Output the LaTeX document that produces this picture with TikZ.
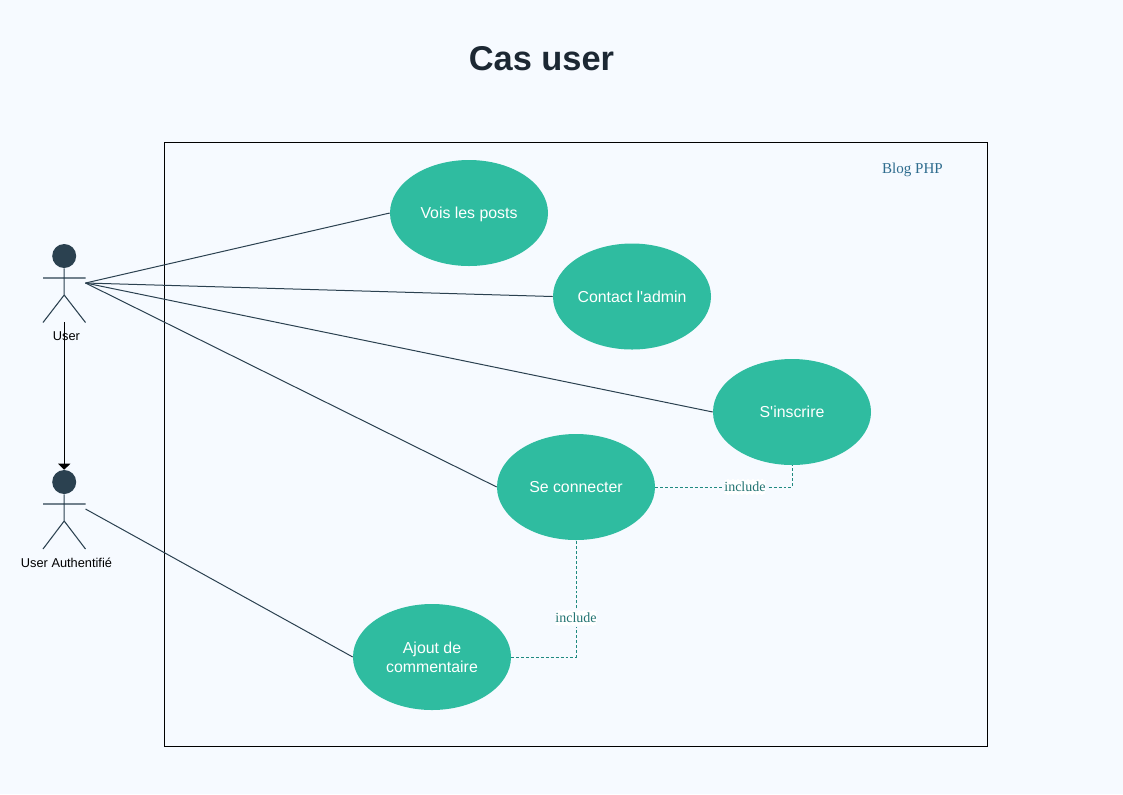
\documentclass[tikz,border=0pt]{standalone}
\usepackage{fontspec}
\setmainfont{Liberation Sans}[Ligatures=TeXOff]
\newfontfamily\serifface{Liberation Serif}
\usetikzlibrary{shapes.geometric,arrows.meta}
\definecolor{bgc}{HTML}{F6FAFF}
\definecolor{teal1}{HTML}{2FBCA0}
\definecolor{darkc}{HTML}{2B4150}
\definecolor{titlec}{HTML}{1C2833}
\definecolor{dashc}{HTML}{1F8A80}
\definecolor{bluec}{HTML}{2E6C8E}
\tikzset{
  usecase/.style={ellipse,fill=teal1,text=white,minimum width=118.5pt,minimum height=79.5pt,inner sep=0pt,align=center,font=\fontsize{11.9}{14.5}\selectfont},
  oneline/.style={text height=11pt,text depth=2.4pt},
  assoc/.style={draw=darkc,line width=0.75pt},
  actorline/.style={draw=darkc,line width=0.8pt},
  incl/.style={draw=dashc,line width=0.7pt,dash pattern=on 2.2pt off 1.5pt},
  incllabel/.style={fill=white,draw=bgc,line width=1.5pt,text=dashc!70!darkc,inner xsep=0.5pt,inner ysep=2.5pt,text height=7.4pt,text depth=0.2pt,font=\serifface\fontsize{10.5}{12}\selectfont},
  actorlabel/.style={text=black,inner sep=0pt,font=\fontsize{9.6}{11}\selectfont}
}
\begin{document}
\begin{tikzpicture}[x=0.75pt,y=-0.75pt]
\useasboundingbox (0,0) rectangle (1123,794);
\fill[bgc] (0,0) rectangle (1123,794);
\node[text=titlec,inner sep=0pt,font=\bfseries\fontsize{25.8}{30}\selectfont] (title) at (541.5,59) {Cas user};
\node[draw=black,line width=0.75pt,minimum width=617.25pt,minimum height=453pt,inner sep=0pt] (system) at (576,444) {};
\node[text=bluec,inner sep=0pt,font=\serifface\fontsize{11.3}{13}\selectfont] (blog) at (912.5,170) {Blog PHP};
\node[usecase,oneline] (posts) at (469,213) {Vois les posts};
\node[usecase,oneline] (contact) at (632,296.5) {Contact l'admin};
\node[usecase,oneline] (inscrire) at (792,412) {S'inscrire};
\node[usecase,oneline] (connecter) at (576,487) {Se connecter};
\node[usecase] (ajout) at (432,657) {Ajout de\\commentaire};
% actor User
\node[circle,fill=darkc,minimum size=18pt,inner sep=0pt] (uhead) at (64.2,256) {};
\coordinate (uhip) at (64.2,295);
\coordinate (uarml) at (43,278);
\coordinate (uarmr) at (85.5,278);
\coordinate (ulegl) at (43,322.5);
\coordinate (ulegr) at (85.5,322.5);
\coordinate (uport) at (85.5,283);
\coordinate (ufoot) at (64.2,322);
\draw[actorline] (uhead.south) -- (uhip) -- (ulegl) (uhip) -- (ulegr) (uarml) -- (uarmr);
\node[actorlabel] (ulabel) at (66.5,336.5) {User};
% actor Authentified
\node[circle,fill=darkc,minimum size=18pt,inner sep=0pt] (ahead) at (64.2,482) {};
\coordinate (ahip) at (64.2,521);
\coordinate (aarml) at (43,504);
\coordinate (aarmr) at (85.5,504);
\coordinate (alegl) at (43,549);
\coordinate (alegr) at (85.5,549);
\coordinate (aport) at (85.5,509);
\draw[actorline] (ahead.south) -- (ahip) -- (alegl) (ahip) -- (alegr) (aarml) -- (aarmr);
\node[actorlabel] (alabel) at (66.5,562.5) {User Authentifié};
% connectors
\draw[black,line width=0.75pt,-{Triangle[length=4.5pt,width=9pt]}] (ufoot) -- (ahead.north);
\draw[assoc] (uport) -- (posts.west);
\draw[assoc] (uport) -- (contact.west);
\draw[assoc] (uport) -- (inscrire.west);
\draw[assoc] (uport) -- (connecter.west);
\draw[assoc] (aport) -- (ajout.west);
\draw[incl] (connecter.east) -| (inscrire.south) node[pos=0.328,incllabel] (inc1) {include};
\draw[incl] (ajout.east) -| (connecter.south) node[pos=0.667,incllabel] (inc2) {include};
\end{tikzpicture}
\end{document}
